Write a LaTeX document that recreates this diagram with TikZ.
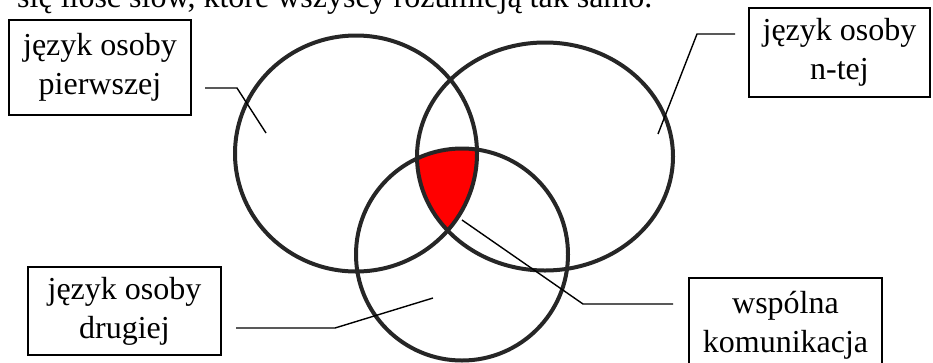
\documentclass[tikz,border=0pt]{standalone}
\usepackage{fontspec}
\setmainfont{Liberation Serif}
\usepackage{xcolor}
\usepackage{tikz}
\usetikzlibrary{positioning}
\definecolor{ringGray}{HTML}{262626}
\definecolor{commonRed}{HTML}{FF0000}

\begin{document}
\begin{tikzpicture}[x=1pt, y=-1pt,
    langbox/.style={draw, line width=1.6pt, align=center, inner sep=0pt, font=\fontsize{32}{39}\selectfont},
    ring/.style={draw=ringGray, line width=4pt},
    lead/.style={draw, line width=1.4pt},
  ]
  \useasboundingbox (0,0) rectangle (933,362);
  \clip (0,0) rectangle (933,362);

  % Caption line, cut at the top
  \node[anchor=base west, inner sep=0pt, font=\fontsize{32}{39}\selectfont] (caption) at (17,7) {się ilość słów, które wszyscy rozumieją tak samo.};

  % Common part
  \begin{scope}
    \clip (356,153.5) ellipse [x radius=121pt, y radius=118pt];
    \clip (545,156.5) ellipse [x radius=128pt, y radius=114pt];
    \fill[commonRed] (462,254.5) circle [radius=106pt];
  \end{scope}

  % Circles
  \draw[ring] (356,153.5) ellipse [x radius=121pt, y radius=118pt];
  \draw[ring] (545,156.5) ellipse [x radius=128pt, y radius=114pt];
  \draw[ring] (462,254.5) circle [radius=106pt];

  % Boxes
  \node[langbox, minimum width=182pt, minimum height=95pt] (first) at (100,67.5) {język osoby\\pierwszej};
  \node[langbox, minimum width=181pt, minimum height=89pt] (nth) at (839.5,52.5) {język osoby\\n-tej};
  \node[langbox, minimum width=193pt, minimum height=88pt] (second) at (124.5,311) {język osoby\\drugiej};
  \node[langbox, minimum width=193pt, minimum height=95pt] (common) at (785.5,325.5) {wspólna\\komunikacja};

  % Leader lines
  \coordinate (first-start) at (205,88);
  \coordinate (first-bend) at (237,88);
  \coordinate (first-tip) at (266,133);
  \coordinate (nth-start) at (735,34);
  \coordinate (nth-bend) at (697,34);
  \coordinate (nth-tip) at (658,134);
  \coordinate (second-start) at (236,328);
  \coordinate (second-bend) at (335,328);
  \coordinate (second-tip) at (433,298);
  \coordinate (common-start) at (673,304);
  \coordinate (common-bend) at (583,304);
  \coordinate (common-tip) at (462,220);

  \draw[lead] (first-start) -- (first-bend) -- (first-tip);
  \draw[lead] (nth-start) -- (nth-bend) -- (nth-tip);
  \draw[lead] (second-start) -- (second-bend) -- (second-tip);
  \draw[lead] (common-start) -- (common-bend) -- (common-tip);
\end{tikzpicture}
\end{document}
